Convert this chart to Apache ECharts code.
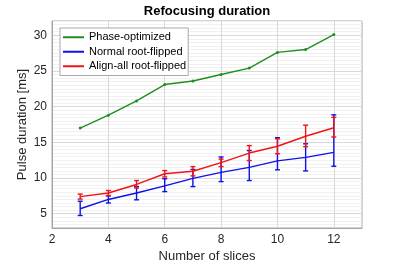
<!DOCTYPE html>
<html>
<head>
<meta charset="utf-8">
<script src="https://cdn.jsdelivr.net/npm/echarts@6/dist/echarts.min.js"></script>
<style>
  html, body { margin: 0; padding: 0; background: #fff; }
  #chart { width: 400px; height: 268px; }
</style>
</head>
<body>
<div id="chart"></div>
<script>
// data
const slices = [3, 4, 5, 6, 7, 8, 9, 10, 11, 12];
const phaseOpt = [17.0, 18.8, 20.8, 23.1, 23.6, 24.5, 25.4, 27.6, 28.0, 30.1];
const normalMean = [5.7, 7.0, 7.9, 8.9, 9.95, 10.8, 11.5, 12.4, 12.9, 13.6];
const normalLow = [4.75, 6.5, 6.95, 8.1, 8.8, 9.5, 9.65, 11.15, 11.0, 11.65];
const normalHigh = [6.75, 7.5, 8.8, 9.9, 11.2, 12.95, 13.85, 15.65, 14.8, 18.85];
const alignMean = [7.4, 7.9, 9.1, 10.6, 10.95, 12.15, 13.5, 14.45, 15.85, 17.05];
const alignLow = [7.05, 7.55, 8.6, 10.15, 10.3, 11.6, 12.45, 13.4, 14.4, 15.75];
const alignHigh = [7.75, 8.25, 9.65, 11.05, 11.6, 12.65, 14.55, 15.5, 17.4, 18.5];
const seriesNames = ['Phase-optimized', 'Normal root-flipped', 'Align-all root-flipped'];

const GREEN = '#1f8f1f';
const BLUE = '#1010e8';
const RED = '#f01414';
const FONT = '"Liberation Sans", Arial, sans-serif';

// 误差棒
function errorBars(color) {
    return function (params, api) {
        const x = api.value(0);
        const lo = api.coord([x, api.value(1)]);
        const hi = api.coord([x, api.value(2)]);
        const w = 2.5;
        const style = { stroke: color, lineWidth: 1.4 };
        return {
            type: 'group',
            children: [
                { type: 'line', shape: { x1: lo[0], y1: lo[1], x2: hi[0], y2: hi[1] }, style: style },
                { type: 'line', shape: { x1: lo[0] - w, y1: lo[1], x2: lo[0] + w, y2: lo[1] }, style: style },
                { type: 'line', shape: { x1: hi[0] - w, y1: hi[1], x2: hi[0] + w, y2: hi[1] }, style: style }
            ]
        };
    };
}

function pairs(ys) {
    return slices.map((x, i) => [x, ys[i]]);
}

function bars(lo, hi) {
    return slices.map((x, i) => [x, lo[i], hi[i]]);
}

// y grid: major every 5, minor every 0.5 (ticks start at 3)
const yGridColors = [];
for (let i = 0; i < 10; i++) {
    yGridColors.push(i === 4 ? '#d9d9d9' : '#f1f1f1');
}

const chart = echarts.init(document.getElementById('chart'));

const option = {
    animation: false,
    backgroundColor: '#fff',
    textStyle: { fontFamily: FONT },
    title: {
        text: 'Refocusing duration',
        left: 207,
        top: 5,
        padding: 0,
        textAlign: 'center',
        textStyle: { fontFamily: FONT, fontSize: 13, fontWeight: 'bold', color: '#000' }
    },
    legend: {
        data: seriesNames,
        orient: 'vertical',
        left: 60,
        top: 28,
        padding: [2, 2, 2, 3],
        itemGap: 0,
        itemWidth: 21,
        itemHeight: 2,
        icon: 'rect',
        backgroundColor: '#fff',
        borderColor: '#a8a8a8',
        borderWidth: 1,
        textStyle: { fontFamily: FONT, fontSize: 11, color: '#000', lineHeight: 14.5 }
    },
    grid: {
        left: 52,
        right: 38,
        top: 21,
        bottom: 37,
        show: true,
        borderColor: '#a6a6a6',
        borderWidth: 1
    },
    xAxis: {
        type: 'value',
        min: 2,
        max: 13,
        interval: 1,
        name: 'Number of slices',
        nameLocation: 'middle',
        nameGap: 22,
        nameMoveOverlap: false,
        nameTextStyle: { fontFamily: FONT, fontSize: 13, color: '#262626' },
        axisLine: { show: true, lineStyle: { color: '#a6a6a6' } },
        axisTick: { show: false },
        axisLabel: {
            margin: 6,
            fontFamily: FONT,
            fontSize: 12,
            color: '#262626',
            formatter: v => (v % 2 === 0 ? String(v) : '')
        },
        splitLine: { show: true, lineStyle: { color: ['#d9d9d9', 'rgba(0,0,0,0)'], width: 1 } }
    },
    yAxis: {
        type: 'value',
        min: 3,
        max: 32,
        interval: 0.5,
        name: 'Pulse duration [ms]',
        nameLocation: 'middle',
        nameGap: 23,
        nameMoveOverlap: false,
        nameTextStyle: { fontFamily: FONT, fontSize: 13, color: '#262626' },
        axisLine: { show: true, lineStyle: { color: '#a6a6a6' } },
        axisTick: { show: false },
        axisLabel: {
            margin: 5,
            fontFamily: FONT,
            fontSize: 12,
            color: '#262626',
            formatter: v => (v % 5 === 0 ? String(v) : '')
        },
        splitLine: { show: true, lineStyle: { color: yGridColors, width: 1 } }
    },
    series: [
        {
            name: seriesNames[0],
            type: 'line',
            data: pairs(phaseOpt),
            symbol: 'circle',
            symbolSize: 3,
            itemStyle: { color: GREEN },
            lineStyle: { color: GREEN, width: 1.4 }
        },
        {
            name: seriesNames[1],
            type: 'line',
            data: pairs(normalMean),
            showSymbol: false,
            itemStyle: { color: BLUE },
            lineStyle: { color: BLUE, width: 1.4 }
        },
        {
            name: 'normalErr',
            type: 'custom',
            renderItem: errorBars(BLUE),
            data: bars(normalLow, normalHigh),
            encode: { x: 0, y: [1, 2] }
        },
        {
            name: seriesNames[2],
            type: 'line',
            data: pairs(alignMean),
            showSymbol: false,
            itemStyle: { color: RED },
            lineStyle: { color: RED, width: 1.4 }
        },
        {
            name: 'alignErr',
            type: 'custom',
            renderItem: errorBars(RED),
            data: bars(alignLow, alignHigh),
            encode: { x: 0, y: [1, 2] }
        }
    ]
};

chart.setOption(option);
</script>
</body>
</html>
